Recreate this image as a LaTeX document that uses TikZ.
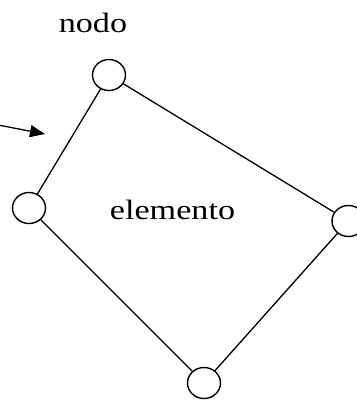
\documentclass[tikz,border=0pt]{standalone}
\usepackage{fontspec}
\setmainfont{Liberation Serif}
\usetikzlibrary{arrows.meta}
\tikzset{
  nodecirc/.style={draw, ellipse, minimum width=33pt, minimum height=31pt, inner sep=0pt, line width=1.4pt, fill=white},
  edge/.style={line width=1.3pt},
  lbl/.style={anchor=base, inner sep=0pt, font=\fontsize{28}{30}\selectfont},
  pointer/.style={line width=1.3pt, -{Triangle[length=15pt,width=12pt]}}
}
\usetikzlibrary{shapes.geometric}
\begin{document}
\begin{tikzpicture}[x=1pt,y=-1pt]
\useasboundingbox (0,0) rectangle (357,400);
\node[nodecirc] (top) at (109,75) {};
\node[nodecirc] (left) at (29,208) {};
\node[nodecirc] (right) at (348.5,221) {};
\node[nodecirc] (bottom) at (204,383) {};
\draw[edge] (top) -- (left);
\draw[edge] (left) -- (bottom);
\draw[edge] (bottom) -- (right);
\draw[edge] (right) -- (top);
\node[lbl] (nodo) at (93,32) {\scalebox{1.22}[1]{nodo}};
\node[lbl] (elem) at (172.5,219) {\scalebox{1.22}[1]{elemento}};
\coordinate (as) at (-2,125);
\coordinate (at) at (45,134);
\draw[pointer] (as) -- (at);
\end{tikzpicture}
\end{document}
